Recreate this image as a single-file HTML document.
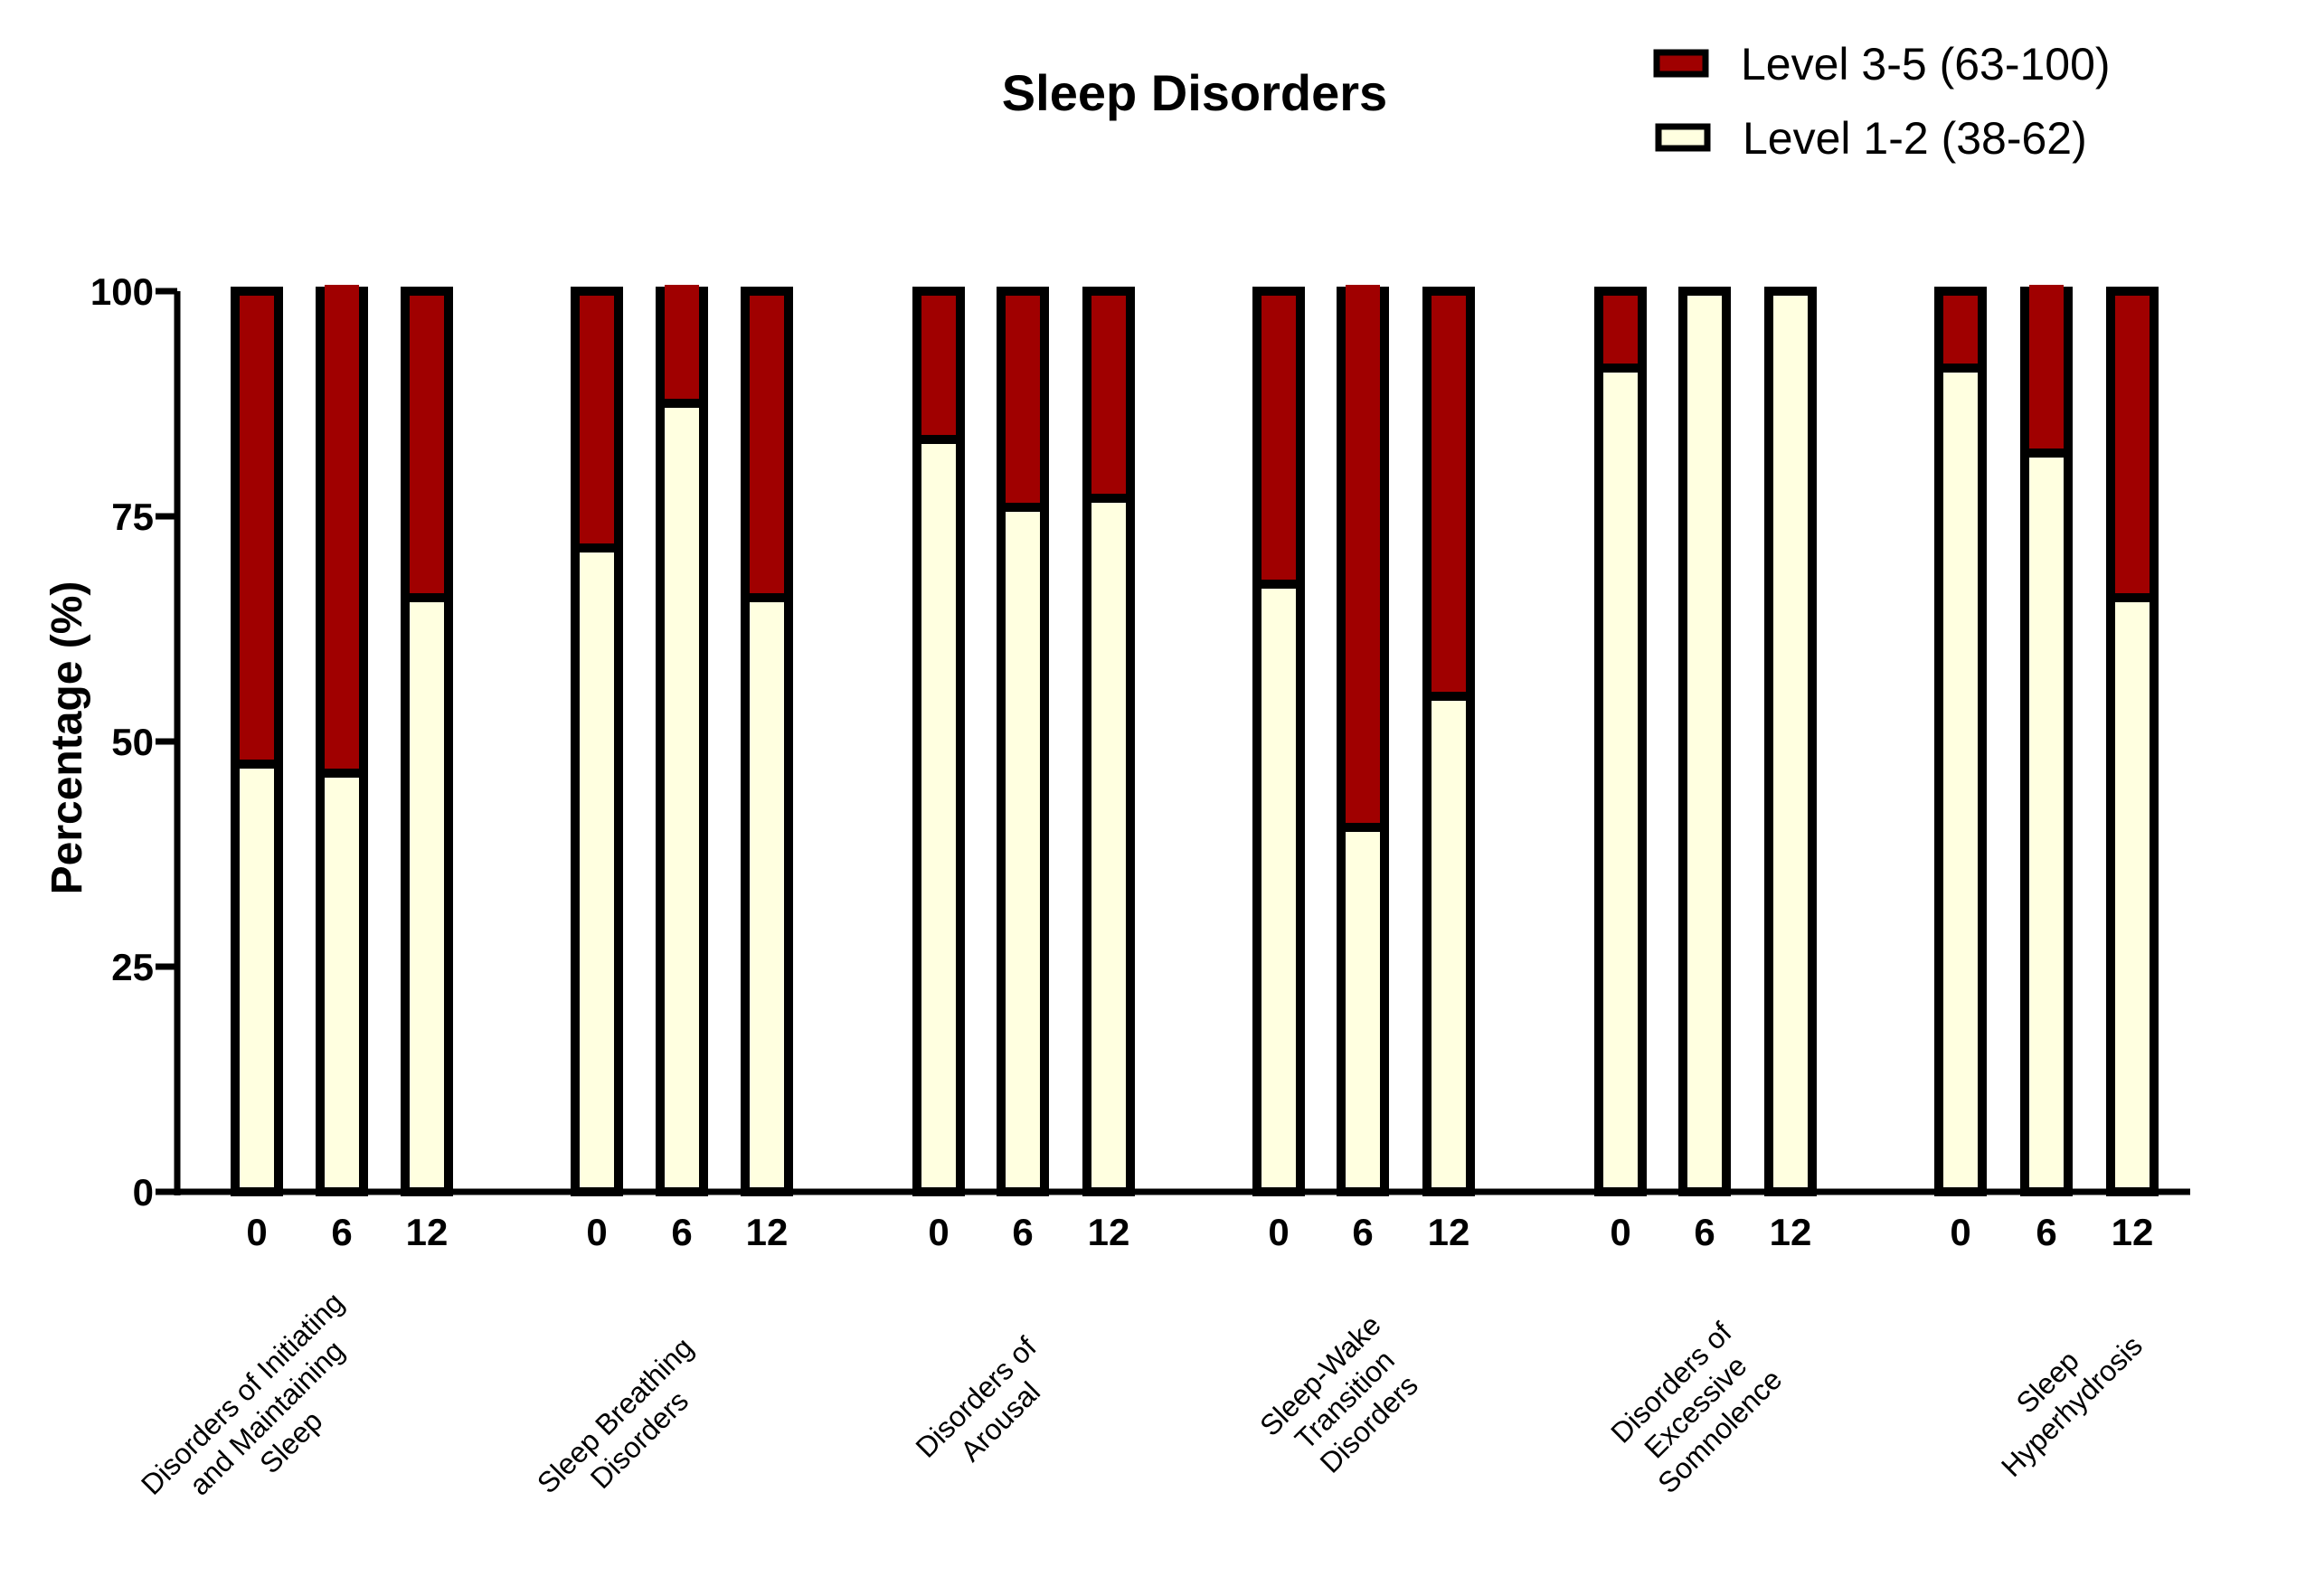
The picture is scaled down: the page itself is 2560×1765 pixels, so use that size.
<!DOCTYPE html>
<html><head><meta charset="utf-8"><style>body{margin:0;background:#fff}svg{display:block}</style></head>
<body>
<svg width="2560" height="1765" viewBox="0 0 2560 1765" xmlns="http://www.w3.org/2000/svg" font-family="Liberation Sans, Arial, sans-serif">
<rect width="2560" height="1765" fill="#fff"/>
<text x="1321" y="122" font-size="56" font-weight="bold" text-anchor="middle">Sleep Disorders</text>
<rect x="1832" y="58" width="54" height="24" fill="#a00000" stroke="#000" stroke-width="7"/>
<text x="1925" y="88" font-size="50">Level 3-5 (63-100)</text>
<rect x="1834" y="140" width="54" height="24" fill="#ffffe0" stroke="#000" stroke-width="7"/>
<text x="1927" y="170" font-size="50">Level 1-2 (38-62)</text>
<text transform="translate(90,816) rotate(-90)" font-size="48" font-weight="bold" text-anchor="middle">Percentage (%)</text>
<g font-size="42" font-weight="bold" text-anchor="end">
<text x="170" y="337">100</text><text x="170" y="586">75</text><text x="170" y="835">50</text><text x="170" y="1084">25</text><text x="170" y="1333">0</text>
</g>
<g stroke="#000" stroke-width="7">
<line x1="196" y1="322" x2="196" y2="1322"/>
<line x1="193" y1="1318" x2="2422" y2="1318"/>
<line x1="172" y1="322" x2="196" y2="322"/><line x1="172" y1="571" x2="196" y2="571"/><line x1="172" y1="820" x2="196" y2="820"/><line x1="172" y1="1069" x2="196" y2="1069"/><line x1="172" y1="1318" x2="196" y2="1318"/>
</g>
<g stroke="#000" stroke-width="10">
<rect x="260" y="322" width="48" height="996" fill="#a00000"/><rect x="260" y="845" width="48" height="473" fill="#ffffe0"/>
<rect x="354" y="322" width="48" height="996" fill="#a00000"/><rect x="354" y="855" width="48" height="463" fill="#ffffe0"/>
<rect x="448" y="322" width="48" height="996" fill="#a00000"/><rect x="448" y="661" width="48" height="657" fill="#ffffe0"/>

<rect x="636" y="322" width="48" height="996" fill="#a00000"/><rect x="636" y="606" width="48" height="712" fill="#ffffe0"/>
<rect x="730" y="322" width="48" height="996" fill="#a00000"/><rect x="730" y="446" width="48" height="872" fill="#ffffe0"/>
<rect x="824" y="322" width="48" height="996" fill="#a00000"/><rect x="824" y="661" width="48" height="657" fill="#ffffe0"/>

<rect x="1014" y="322" width="48" height="996" fill="#a00000"/><rect x="1014" y="486" width="48" height="832" fill="#ffffe0"/>
<rect x="1107" y="322" width="48" height="996" fill="#a00000"/><rect x="1107" y="561" width="48" height="757" fill="#ffffe0"/>
<rect x="1202" y="322" width="48" height="996" fill="#a00000"/><rect x="1202" y="551" width="48" height="767" fill="#ffffe0"/>

<rect x="1390" y="322" width="48" height="996" fill="#a00000"/><rect x="1390" y="646" width="48" height="672" fill="#ffffe0"/>
<rect x="1483" y="322" width="48" height="996" fill="#a00000"/><rect x="1483" y="915" width="48" height="403" fill="#ffffe0"/>
<rect x="1578" y="322" width="48" height="996" fill="#a00000"/><rect x="1578" y="770" width="48" height="548" fill="#ffffe0"/>

<rect x="1768" y="322" width="48" height="996" fill="#a00000"/><rect x="1768" y="407" width="48" height="911" fill="#ffffe0"/>
<rect x="1861" y="322" width="48" height="996" fill="#ffffe0"/>
<rect x="1956" y="322" width="48" height="996" fill="#ffffe0"/>

<rect x="2144" y="322" width="48" height="996" fill="#a00000"/><rect x="2144" y="407" width="48" height="911" fill="#ffffe0"/>
<rect x="2239" y="322" width="48" height="996" fill="#a00000"/><rect x="2239" y="501" width="48" height="817" fill="#ffffe0"/>
<rect x="2334" y="322" width="48" height="996" fill="#a00000"/><rect x="2334" y="661" width="48" height="657" fill="#ffffe0"/>
</g>
<g fill="#a00000">
<rect x="359" y="315" width="38" height="12"/><rect x="735" y="315" width="38" height="12"/><rect x="1488" y="315" width="38" height="12"/><rect x="2244" y="315" width="38" height="12"/>
</g>
<g font-size="42" font-weight="bold" text-anchor="middle">
<text x="284" y="1377">0</text><text x="378" y="1377">6</text><text x="472" y="1377">12</text>
<text x="660" y="1377">0</text><text x="754" y="1377">6</text><text x="848" y="1377">12</text>
<text x="1038" y="1377">0</text><text x="1131" y="1377">6</text><text x="1226" y="1377">12</text>
<text x="1414" y="1377">0</text><text x="1507" y="1377">6</text><text x="1602" y="1377">12</text>
<text x="1792" y="1377">0</text><text x="1885" y="1377">6</text><text x="1980" y="1377">12</text>
<text x="2168" y="1377">0</text><text x="2263" y="1377">6</text><text x="2358" y="1377">12</text>
</g>
<g font-size="32" text-anchor="middle">
<g transform="translate(297,1570) rotate(-45)"><text y="-30">Disorders of Initiating</text><text y="8">and Maintaining</text><text y="46">Sleep</text></g>
<g transform="translate(695,1580) rotate(-45)"><text y="-10">Sleep Breathing</text><text y="28">Disorders</text></g>
<g transform="translate(1094,1560) rotate(-45)"><text y="-10">Disorders of</text><text y="28">Arousal</text></g>
<g transform="translate(1489,1550) rotate(-45)"><text y="-30">Sleep-Wake</text><text y="8">Transition</text><text y="46">Disorders</text></g>
<g transform="translate(1877,1558) rotate(-45)"><text y="-30">Disorders of</text><text y="8">Excessive</text><text y="46">Somnolence</text></g>
<g transform="translate(2279,1543) rotate(-45)"><text y="-10">Sleep</text><text y="28">Hyperhydrosis</text></g>
</g>
</svg>
</body></html>
